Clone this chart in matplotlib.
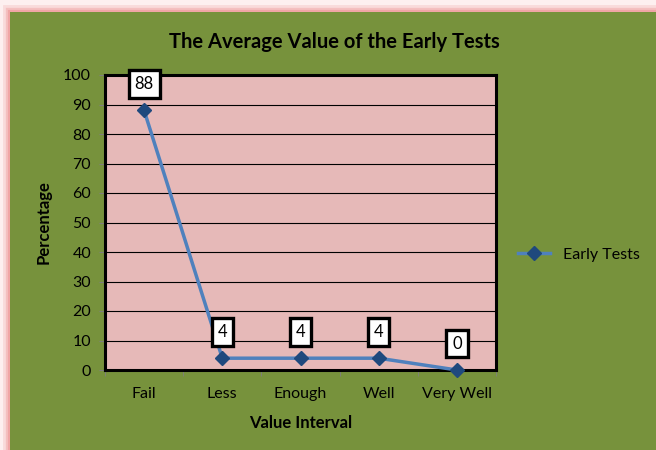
import numpy as np
import matplotlib.pyplot as plt
from matplotlib.patches import Rectangle

# data
categories = ['Fail', 'Less', 'Enough', 'Well', 'Very Well']
early_tests = [88, 4, 4, 4, 0]

plt.rcParams['font.family'] = ['Lato', 'DejaVu Sans']

fig = plt.figure(figsize=(6.56, 4.5), dpi=100, facecolor='#FDF0F0')

# green chart area with pink glow border
for lw, a in [(10, 0.25), (6, 0.45), (3, 0.8)]:
    fig.patches.append(Rectangle((10 / 656, -0.05), 1.0, 1 - 12 / 450 + 0.05,
                                 transform=fig.transFigure, facecolor='none',
                                 edgecolor='#F0A0A0', linewidth=lw, alpha=a, zorder=-2))
fig.patches.append(Rectangle((10 / 656, -0.05), 1.0, 1 - 12 / 450 + 0.05,
                             transform=fig.transFigure, facecolor='#77923C',
                             edgecolor='none', zorder=-1))

ax = fig.add_axes([105 / 656, 1 - 370 / 450, 391 / 656, 295 / 450])
ax.set_facecolor('#E6B9B8')

x = np.arange(len(categories))
ax.plot(x, early_tests, color='#4F81BD', linewidth=2.5, marker='D',
        markersize=7, markerfacecolor='#1F497D', markeredgecolor='#1F497D',
        label='Early Tests', zorder=3, clip_on=False)

for xi, v in zip(x, early_tests):
    ax.annotate(str(v), (xi, v), xytext=(0, 19), textcoords='offset points',
                ha='center', va='center', fontsize=12, color='black', zorder=5,
                bbox=dict(boxstyle='square,pad=0.35', facecolor='white',
                          edgecolor='black', linewidth=2.4))

ax.set_xlim(-0.5, len(categories) - 0.5)
ax.set_ylim(0, 100)
ax.set_yticks(np.arange(0, 101, 10))
ax.set_xticks(x)
ax.set_xticklabels(categories)
ax.set_xticks(np.arange(-0.5, len(categories), 1), minor=True)
ax.tick_params(axis='x', which='major', length=0, pad=12, labelsize=11.5)
ax.tick_params(axis='x', which='minor', length=4, color='#7F7F7F')
ax.tick_params(axis='y', length=4, color='#7F7F7F', labelsize=11.5, pad=6)
ax.grid(axis='y', color='black', linewidth=0.8)
ax.set_axisbelow(True)
for s in ax.spines.values():
    s.set_linewidth(2.2)
    s.set_color('black')

ax.set_xlabel('Value Interval', fontsize=12, fontweight='bold', labelpad=10)
ax.set_ylabel('Percentage', fontsize=12, fontweight='bold', labelpad=8)
fig.text(334 / 656, 1 - 42 / 450, 'The Average Value of the Early Tests',
         ha='center', va='center', fontsize=14.5, fontweight='bold')

leg = ax.legend(loc='center left', bbox_to_anchor=(1.02, 0.39), frameon=False,
                fontsize=11.5, handlelength=2.0)

fig.savefig('out.png', dpi=100, facecolor=fig.get_facecolor())
